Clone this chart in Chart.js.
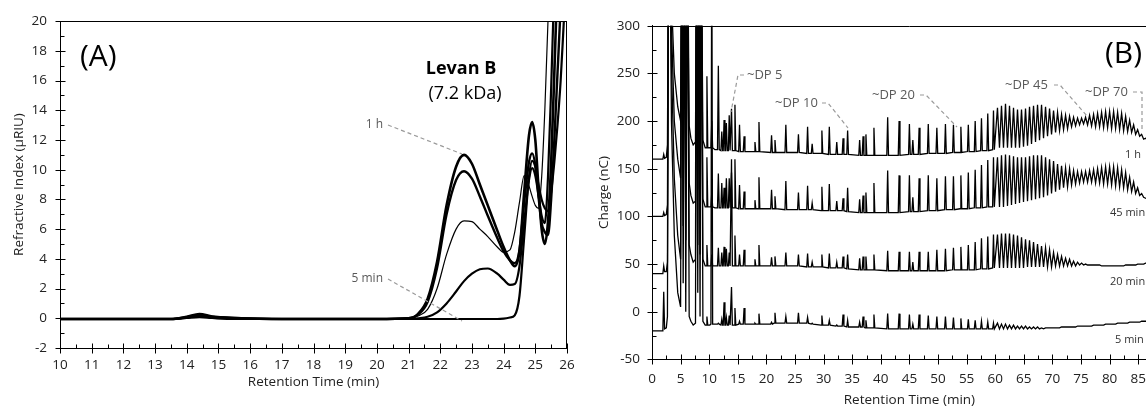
<!DOCTYPE html>
<html><head><meta charset="utf-8">
<script src="https://cdn.jsdelivr.net/npm/chart.js@4.4.0/dist/chart.umd.min.js"></script>
<style>
html,body{margin:0;padding:0;background:#fff;overflow:hidden;width:1146px;height:408px;}
#wrap{position:relative;width:1146px;height:408px;overflow:hidden;background:#fff;}
#cA{position:absolute;left:0;top:0;}
#cB{position:absolute;left:590px;top:0;}
</style></head><body>
<div id="wrap"><canvas id="cA" width="590" height="408"></canvas><canvas id="cB" width="600" height="408"></canvas></div>
<script>
// ---------- Panel A data (retention time, min / refractive index, µRIU) ----------
const tA = [10,13.5,14.0,14.4,14.8,15.5,17,20,21.0,21.3,21.6,21.9,22.2,22.5,22.75,23.0,23.25,23.5,23.8,24.0,24.2,24.35,24.5,24.65,24.8,24.9,25.0,25.1,25.2,25.3,25.4,25.5,25.6,25.7,25.8,25.9,26.0];
const riA_1h  = [-0.05,-0.05,0.1,0.28,0.12,0.02,-0.05,-0.05,0,0.3,1.3,3.8,7.6,10.2,11.0,10.4,9.0,7.6,5.9,4.8,3.9,3.5,4.5,8.5,12.3,13.2,12.0,8.8,6.0,5.0,6.5,10.5,16.5,23,30,37,44];
const riA_45  = [-0.05,-0.05,0.08,0.22,0.1,0.02,-0.05,-0.05,0,0.25,1.1,3.4,7.0,9.3,9.9,9.4,8.2,6.9,5.4,4.5,3.9,3.7,4.6,7.8,10.5,11.1,10.3,8.2,6.4,5.8,5.6,8.0,12,16.5,21,27,33];
const riA_20  = [-0.05,-0.05,0.08,0.2,0.08,0,-0.05,-0.05,0,0.15,0.6,2.0,4.3,6.0,6.55,6.5,6.0,5.5,4.8,4.45,4.6,5.8,7.8,9.6,8.9,8.2,7.6,7.4,9.5,14,20,27,35,43,51,59,67];
const riA_10  = [-0.05,-0.05,0.05,0.15,0.05,0,-0.05,-0.05,-0.05,0,0.1,0.4,1.0,1.8,2.5,3.0,3.3,3.35,3.0,2.6,2.25,2.3,3.5,6.5,9.3,10.1,9.6,8.3,6.9,6.4,9.5,15.5,22.5,30,38,46,54];
const riA_5   = [-0.05,-0.05,0.02,0.08,0.02,-0.05,-0.05,-0.05,-0.05,-0.05,-0.05,-0.05,-0.05,-0.05,-0.05,-0.05,-0.05,-0.05,-0.05,-0.02,0.05,0.2,1.5,5.5,9.5,10.6,10.2,9.0,8.0,7.4,7.2,8.5,10.5,13,16,20,24];

// ---------- Panel B data (retention time, min / charge, nC) ----------
const tEarly = [0,1.9,2.05,2.2,2.5,2.7,2.9,3.1,3.4,3.9,4.5,5.0,5.2,5.45,5.7,5.9,6.2,6.5,6.8,7.2,7.6,7.8,8.0,8.2,8.4,8.6,8.9,9.3,9.45,9.6,9.75,10.1,10.3,10.45,10.6,11.0,11.45,11.6,11.75];
const early1h = [160,160,165,161,162,175,420,420,330,250,215,200,420,230,420,215,420,195,182,175,178,420,190,420,185,420,180,172,172,247,172,172,172,200,172,170,170,258,170];
const early45 = [100,100,104,101,102,112,420,420,300,200,160,140,420,170,420,150,420,135,122,114,116,420,128,420,122,420,118,110,110,162,110,110,110,125,110,109,109,145,109];
const early20 = [40,40,48,42,42,52,420,420,260,140,80,55,420,90,420,75,420,70,60,52,55,420,70,420,60,420,55,48,48,70,48,48,48,60,48,48,48,67,48];
const early5  = [-20,-20,21,-18,-17,-5,420,420,200,80,20,5,420,30,420,0,420,-5,-10,-14,-12,420,20,420,-5,420,-10,-14,-14,-5,-14,-14,-13,420,-13,-13,-13,-12,-13];

// oligosaccharide peaks: [foot, apex, foot] retention times
const tMid = [12.05,12.2,12.35, 12.45,12.6,12.75, 12.85,13.0,13.15, 13.35,13.5,13.65, 13.75,13.9,14.05, 14.35,14.5,14.65, 15.15,15.3,15.45, 15.95,16.1,16.25, 17.85,18.0,18.15, 18.55,18.7,18.85, 20.75,20.9,21.05, 21.35,21.5,21.65, 23.25,23.4,23.55, 25.45,25.6,25.75, 27.05,27.2,27.35, 27.85,28.0,28.15, 29.55,29.7,29.85, 30.85,31.0,31.15, 32.15,32.3,32.45, 33.25,33.4,33.55, 34.05,34.2,34.35, 36.15,36.3,36.45, 36.75,36.9,37.05, 37.25,37.4,37.55, 38.65,38.8,38.95, 41.05,41.2,41.35, 43.05,43.2,43.35, 44.85,45.0,45.15, 45.45,45.6,45.75, 46.55,46.7,46.85, 48.15,48.3,48.45, 49.65,49.8,49.95, 51.15,51.3,51.45, 52.55,52.7,52.85, 53.85,54.0,54.15, 55.15,55.3,55.45, 56.35,56.5,56.65, 57.45,57.6,57.75, 58.55,58.7,58.85, 59.55,59.7,59.85];
const mid1hApex = [189,201,198,206,213,217,196,184,178,199,185,180,196,186,194,176,190,194,178,182,190,180,184,186,193,204,200,197,180,193,197,193,197,196,194,196,200,203,208,211];
const mid1hBase = [169,169,169,169,169,169,168,168,168,168,167,167,167,167,166,166,166,165,165,165,165,164,164,164,164,164,164,165,165,165,166,166,166,167,167,168,168,169,169,170];
const mid45Apex = [135,130,140,140,146,160,133,126,117,141,128,121,137,125,132,114,131,134,116,119,130,118,122,125,135,148,143,143,120,140,143,140,142,142,143,146,149,154,159,162];
const mid45Base = [109,109,109,109,109,109,108,108,108,108,108,108,107,107,107,107,106,106,106,106,105,104,104,104,104,104,104,105,105,105,106,106,107,107,108,108,109,109,110,110];
const mid20Apex = [62,68,66,62,160,80,60,65,55,70,57,58,62,60,61,52,60,61,52,58,60,56,58,58,60,64,63,63,52,63,63,65,66,67,68,70,73,77,79,81];
const mid20Base = [48,48,48,48,48,48,48,48,48,48,48,48,48,48,47,47,47,46,46,46,45,44,44,44,44,43,43,43,43,43,43,43,43,44,44,44,44,45,45,46];
const mid5Apex  = [-8,10,-6,-4,26,4,-10,4,-12,-2,-11,-1,-5,-1,-6,-12,-4,-9,-14,-3,-9,-11,-5,-9,-3,-2,-2,-3,-13,-3,-4,-5,-5,-6,-7,-8,-9,-10,-11,-12];
const mid5Base  = [-14,-14,-14,-14,-14,-14,-13,-13,-13,-13,-13,-12,-12,-12,-12,-13,-14,-14,-15,-15,-16,-16,-16,-17,-17,-18,-18,-18,-18,-18,-18,-18,-18,-18,-18,-18,-18,-18,-18,-18];

// high-DP region: apex / valley retention times
const denseApexT   = [60.4,61.1,61.8,62.5,63.2,63.9,64.6,65.3,66.0,66.7,67.4,68.1,68.8,69.5,70.2,70.9,71.6,72.3,73.0,73.7,74.4,75.1,75.8,76.5,77.2,77.9,78.6,79.3,80.0,80.7,81.4,82.1,82.8,83.5,84.2,84.9,85.6,86.3];
const denseValleyT = [60.75,61.45,62.15,62.85,63.55,64.25,64.95,65.65,66.35,67.05,67.75,68.45,69.15,69.85,70.55,71.25,71.95,72.65,73.35,74.05,74.75,75.45,76.15,76.85,77.55,78.25,78.95,79.65,80.35,81.05,81.75,82.45,83.15,83.85,84.55,85.25,85.95,86.65];
const dense1hTop = [214,216,218,216,214,212,212,213,215,216,217,217,215,213,211,209,207,206,205,204,203,203,204,206,207,208,209,210,210,210,209,208,205,201,196,191,186,182];
const dense1hBot = [172,172,172,172,172,172,173,174,176,178,180,182,184,186,188,190,191,192,194,195,196,197,196,195,194,194,193,193,192,192,191,190,189,188,186,184,181,179];
const dense45Top = [162,164,165,164,163,162,162,162,163,164,164,164,162,160,158,155,153,151,150,148,147,147,147,148,149,150,151,152,152,152,151,149,146,141,136,130,124,119];
const dense45Bot = [110,110,111,112,113,114,115,116,117,118,119,120,122,124,126,128,130,131,133,134,135,136,136,136,135,135,134,134,133,132,131,130,128,126,124,122,120,118];
const dense20Top = [81,82,82,82,81,80,78,76,75,73,71,69,67,65,62,60,58,56,55,53,52,51,50,49,49,49,48,48,48,48,48,48,49,49,49,50,50,51];
const dense20Bot = [46,46,46,46,46,46,46,47,47,47,47,47,47,47,48,48,48,48,48,48,49,49,49,49,49,49,48,48,48,48,48,48,49,49,49,50,50,51];
const dense5Top  = [-12,-13,-13,-14,-14,-15,-15,-15,-16,-16,-16,-17,-17,-17,-17,-17,-16,-16,-16,-16,-15,-15,-15,-15,-14,-14,-14,-13,-13,-13,-12,-12,-12,-11,-11,-11,-10,-10];
const dense5Bot  = [-18,-18,-18,-18,-18,-18,-18,-18,-18,-18,-18,-18,-17,-17,-17,-17,-16,-16,-16,-16,-15,-15,-15,-15,-14,-14,-14,-13,-13,-13,-12,-12,-12,-11,-11,-11,-10,-10];
const tTail  = [88,90];
const tail1h = [175,172];
const tail45 = [114,110];
const tail20 = [52,53];
const tail5  = [-9,-8];

// axis tick settings
const xTicksA = {min:10, max:26, major:1, minor:0.5};
const yTicksA = {min:-2, max:20, major:2, minor:1};
const xTicksB = {min:0, max:90, major:5, minor:2.5};
const yTicksB = {min:-50, max:300, major:50, minor:25};

// ---------- builders ----------
function seriesA(ys){ return tA.map((t,i)=>({x:t,y:ys[i]})); }
function seriesB(early, mBase, mApex, dTop, dBot, tail){
  const p = [];
  tEarly.forEach((t,i)=>p.push({x:t,y:early[i]}));
  tMid.forEach((t,j)=>{ const i=Math.floor(j/3); p.push({x:t,y:(j%3===1)?mApex[i]:mBase[i]}); });
  denseApexT.forEach((t,k)=>{ p.push({x:t,y:dTop[k]}); p.push({x:denseValleyT[k],y:dBot[k]}); });
  tTail.forEach((t,i)=>p.push({x:t,y:tail[i]}));
  return p;
}

const FONT = "'Open Sans','Noto Sans','DejaVu Sans',sans-serif";

function makeDecor(cfg){
  return {
    id:'decor',
    afterDraw(chart){
      const {ctx, chartArea:a, scales:{x,y}} = chart;
      ctx.save();
      ctx.strokeStyle='#000'; ctx.lineWidth=1; ctx.setLineDash([]);
      ctx.beginPath();
      ctx.moveTo(a.left, Math.round(a.top)+0.5); ctx.lineTo(a.right, Math.round(a.top)+0.5);
      ctx.moveTo(Math.round(a.right)-0.5, a.top); ctx.lineTo(Math.round(a.right)-0.5, a.bottom);
      let n = Math.round((cfg.xt.max-cfg.xt.min)/cfg.xt.minor);
      let r = Math.round(cfg.xt.major/cfg.xt.minor);
      const yb = Math.round(a.bottom)+0.5;
      for(let i=0;i<=n;i++){
        const v = cfg.xt.min + i*cfg.xt.minor;
        const px = Math.round(x.getPixelForValue(v))+0.5;
        const major = i%r===0;
        ctx.moveTo(px, yb-(major?5:4)); ctx.lineTo(px, yb+(major?5:0));
      }
      n = Math.round((cfg.yt.max-cfg.yt.min)/cfg.yt.minor);
      r = Math.round(cfg.yt.major/cfg.yt.minor);
      const xl = Math.round(a.left)+0.5;
      for(let i=0;i<=n;i++){
        const v = cfg.yt.min + i*cfg.yt.minor;
        const py = Math.round(y.getPixelForValue(v))+0.5;
        const major = i%r===0;
        ctx.moveTo(xl-(major?5:0), py); ctx.lineTo(xl+(major?5:4), py);
      }
      ctx.stroke();
      ctx.strokeStyle='#9a9a9a'; ctx.lineWidth=1.2; ctx.setLineDash([4,3]);
      cfg.leaders.forEach(L=>{
        ctx.beginPath(); ctx.moveTo(L[0][0],L[0][1]);
        for(let k=1;k<L.length;k++) ctx.lineTo(L[k][0],L[k][1]);
        ctx.stroke();
      });
      ctx.setLineDash([]);
      cfg.texts.forEach(T=>{
        ctx.font = T.font; ctx.fillStyle = T.color; ctx.textAlign = T.align||'left'; ctx.textBaseline='middle';
        ctx.fillText(T.text, T.x, T.y);
      });
      ctx.restore();
    }
  };
}

const commonTicks = {color:'#222', font:{family:FONT, size:13.5}, autoSkip:false, maxRotation:0};
const titleFont = {family:FONT, size:13.5};

// ---------- Panel A ----------
const dsA = [
  {data:seriesA(riA_1h), borderWidth:2.6},
  {data:seriesA(riA_45), borderWidth:2.4},
  {data:seriesA(riA_20), borderWidth:1.2},
  {data:seriesA(riA_10), borderWidth:2.2},
  {data:seriesA(riA_5),  borderWidth:2.2}
].map(d=>Object.assign(d,{borderColor:'#000', pointRadius:0, cubicInterpolationMode:'monotone', fill:false}));

new Chart(document.getElementById('cA'), {
  type:'line',
  data:{datasets:dsA},
  options:{
    responsive:false, animation:false, devicePixelRatio:1,
    layout:{padding:{top:20,right:23,bottom:14,left:7}},
    plugins:{legend:{display:false}, tooltip:{enabled:false}},
    scales:{
      x:{type:'linear', min:xTicksA.min, max:xTicksA.max, afterFit:s=>{s.height=46;},
         ticks:Object.assign({stepSize:xTicksA.major, padding:9}, commonTicks),
         grid:{display:false, drawTicks:false}, border:{display:true,color:'#000',width:1},
         title:{display:true, text:'Retention Time (min)', color:'#222', font:titleFont, padding:{top:0,bottom:4}}},
      y:{min:yTicksA.min, max:yTicksA.max, afterFit:s=>{s.width=53;},
         ticks:Object.assign({stepSize:yTicksA.major, padding:13}, commonTicks),
         grid:{display:false, drawTicks:false}, border:{display:true,color:'#000',width:1},
         title:{display:true, text:'Refractive Index (µRIU)', color:'#222', font:titleFont, padding:{top:4,bottom:0}}}
    }
  },
  plugins:[makeDecor({
    xt:xTicksA, yt:yTicksA,
    leaders:[[[388,125],[462,154]], [[388,279],[462,321]]],
    texts:[
      {text:'(A)', x:80, y:57, font:`30px ${FONT}`, color:'#000'},
      {text:'Levan B', x:461, y:69, font:`bold 18px ${FONT}`, color:'#000', align:'center'},
      {text:'(7.2 kDa)', x:465, y:94, font:`18px ${FONT}`, color:'#000', align:'center'},
      {text:'1 h', x:383, y:125, font:`12px ${FONT}`, color:'#595959', align:'right'},
      {text:'5 min', x:383, y:279, font:`12px ${FONT}`, color:'#595959', align:'right'}
    ]
  })]
});

// ---------- Panel B ----------
const dsB = [
  {data:seriesB(early1h, mid1hBase, mid1hApex, dense1hTop, dense1hBot, tail1h)},
  {data:seriesB(early45, mid45Base, mid45Apex, dense45Top, dense45Bot, tail45)},
  {data:seriesB(early20, mid20Base, mid20Apex, dense20Top, dense20Bot, tail20)},
  {data:seriesB(early5,  mid5Base,  mid5Apex,  dense5Top,  dense5Bot,  tail5)}
].map(d=>Object.assign(d,{borderColor:'#000', borderWidth:1.3, pointRadius:0, tension:0, fill:false}));

new Chart(document.getElementById('cB'), {
  type:'line',
  data:{datasets:dsB},
  options:{
    responsive:false, animation:false, devicePixelRatio:1,
    layout:{padding:{top:25.7,right:23.2,bottom:0,left:2}},
    plugins:{legend:{display:false}, tooltip:{enabled:false}},
    scales:{
      x:{type:'linear', min:xTicksB.min, max:xTicksB.max, afterFit:s=>{s.height=48.6;},
         ticks:Object.assign({stepSize:xTicksB.major, padding:12}, commonTicks),
         grid:{display:false, drawTicks:false}, border:{display:true,color:'#000',width:1},
         title:{display:true, text:'Retention Time (min)', color:'#222', font:titleFont, padding:{top:0,bottom:0}}},
      y:{min:yTicksB.min, max:yTicksB.max, afterFit:s=>{s.width=60;},
         ticks:Object.assign({stepSize:yTicksB.major, padding:12}, commonTicks),
         grid:{display:false, drawTicks:false}, border:{display:true,color:'#000',width:1},
         title:{display:true, text:'Charge (nC)', color:'#222', font:titleFont, padding:{top:4,bottom:0}}}
    }
  },
  plugins:[makeDecor({
    xt:xTicksB, yt:yTicksB,
    leaders:[
      [[154,75],[148,75],[141,112]],
      [[232,103],[238,103],[258,128]],
      [[330,95],[336,95],[367,127]],
      [[464,85],[470,85],[497,116]],
      [[543,92],[552,92],[552,132]]
    ],
    texts:[
      {text:'(B)', x:515, y:54, font:`30px ${FONT}`, color:'#000'},
      {text:'~DP 5', x:157, y:75, font:`13px ${FONT}`, color:'#595959'},
      {text:'~DP 10', x:185, y:103, font:`13px ${FONT}`, color:'#595959'},
      {text:'~DP 20', x:282, y:95, font:`13px ${FONT}`, color:'#595959'},
      {text:'~DP 45', x:415, y:85, font:`13px ${FONT}`, color:'#595959'},
      {text:'~DP 70', x:495, y:92, font:`13px ${FONT}`, color:'#595959'},
      {text:'1 h', x:535, y:155, font:`11px ${FONT}`, color:'#333'},
      {text:'45 min', x:520, y:213, font:`11px ${FONT}`, color:'#333'},
      {text:'20 min', x:520, y:282, font:`11px ${FONT}`, color:'#333'},
      {text:'5 min', x:525, y:340, font:`11px ${FONT}`, color:'#333'}
    ]
  })]
});
</script>
</body></html>
